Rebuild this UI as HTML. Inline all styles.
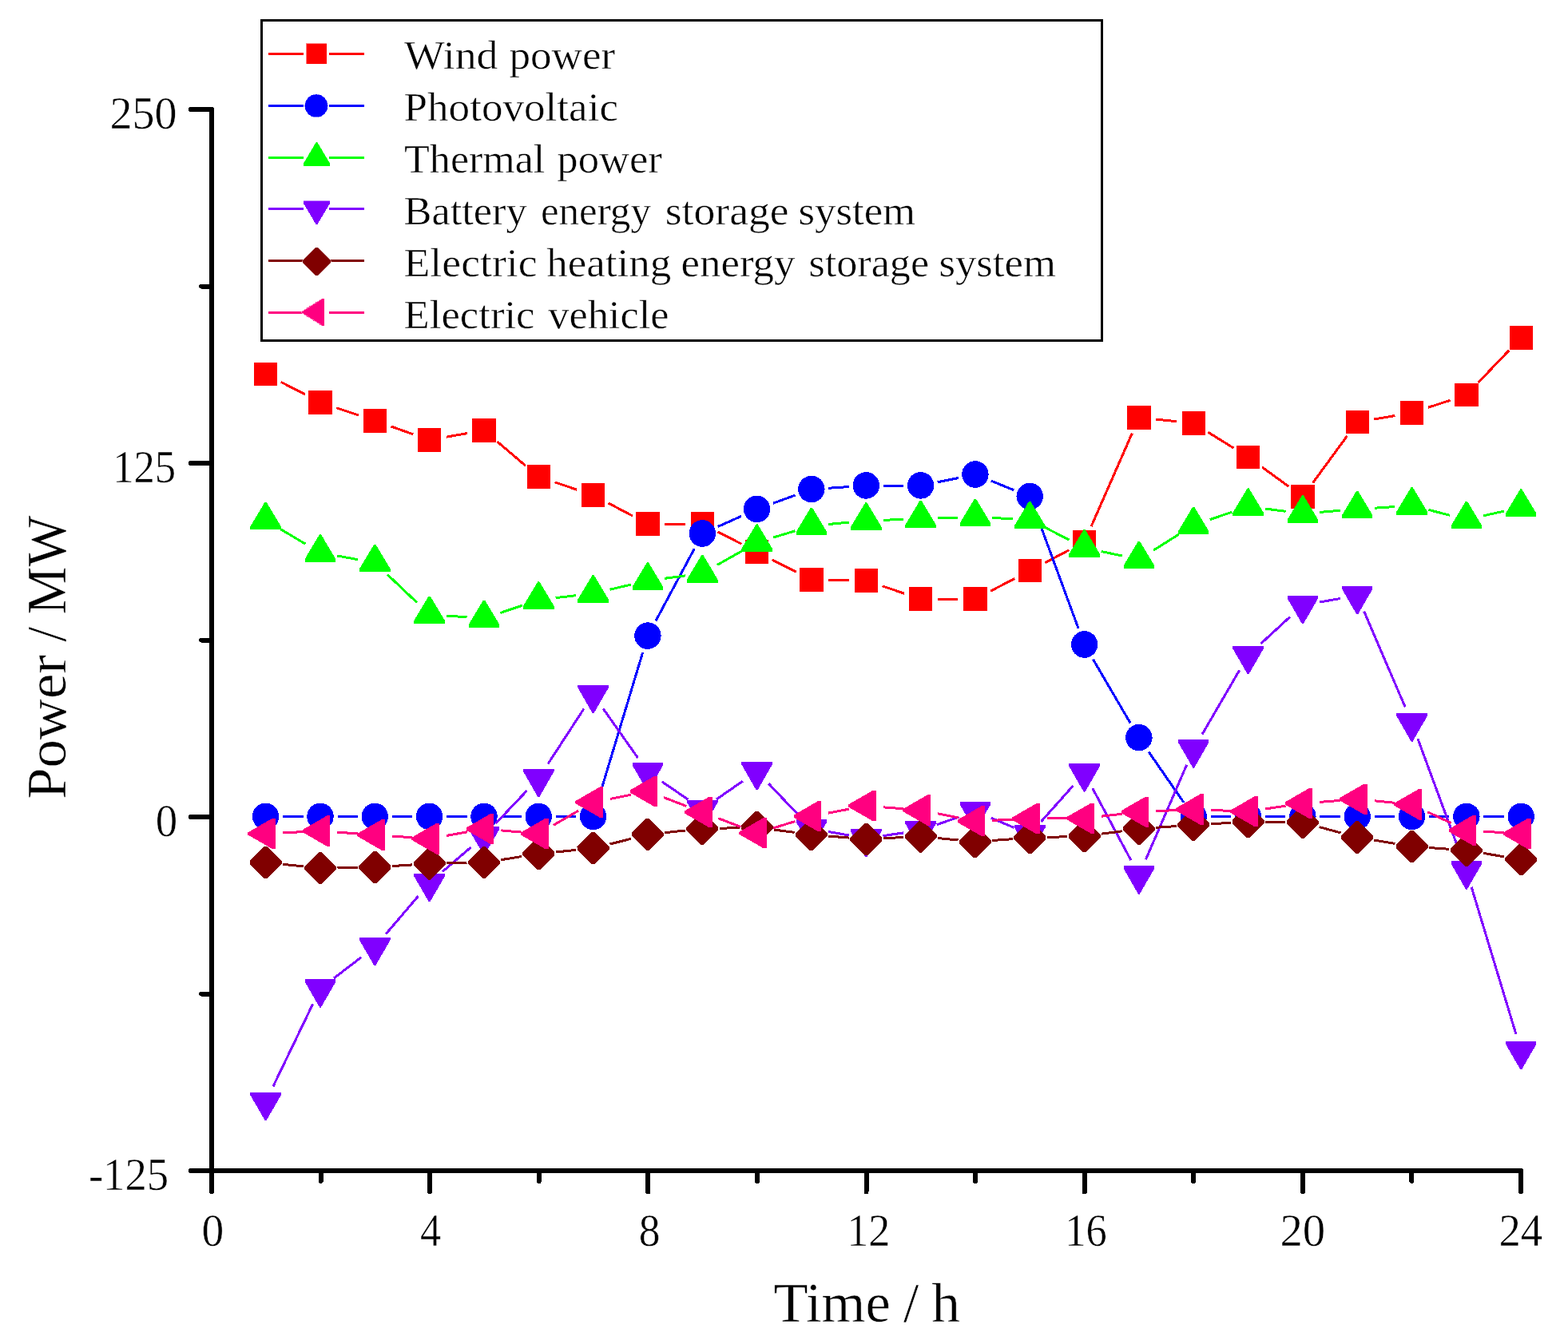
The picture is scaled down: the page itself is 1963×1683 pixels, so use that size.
<!DOCTYPE html>
<html><head><meta charset="utf-8"><title>Power chart</title>
<style>html,body{margin:0;padding:0;background:#fff;width:1963px;height:1683px;overflow:hidden}svg{display:block}</style></head>
<body>
<svg width="1963" height="1683" viewBox="0 0 1963 1683" shape-rendering="crispEdges">
<rect width="1963" height="1683" fill="#fff"/>
<g fill="#ff0000" stroke="none">
<path d="M351.7 478.3L381.9 493.9M421.3 510.7L448.9 520M489.6 534L517.3 543.8M558.8 547.2L584.8 542.6M622.3 552.8L657.9 583.2M694.7 603.9L722.2 613.2M761.6 630L791.9 646M832.4 656L857.8 656M898.4 665.8L928.5 681.3M966.7 700.9L996.8 716.3M1037.4 726.4L1062.8 726.7M1104.6 733.9L1132.2 743.2M1174.1 750.1L1199.4 750.1M1240 740.2L1270.2 724.6M1308.3 704.7L1338.6 688.7M1366.2 659L1417.3 542.6M1447.3 525.1L1472.9 527.7M1512.5 541.3L1544.3 561M1580 585L1613.5 609.3M1643.6 604.6L1686.5 545.9M1720.4 525L1746.4 520.5M1788 510.2L1815.5 501.3M1850.7 479L1889.4 438.5" fill="none" stroke="#ff0000" stroke-width="3"/>
<rect x="317.9" y="453.7" width="29.4" height="29.4"/>
<rect x="386.3" y="489.1" width="29.4" height="29.4"/>
<rect x="454.6" y="512.2" width="29.4" height="29.4"/>
<rect x="522.9" y="536.2" width="29.4" height="29.4"/>
<rect x="591.2" y="524.2" width="29.4" height="29.4"/>
<rect x="659.6" y="582.4" width="29.4" height="29.4"/>
<rect x="727.9" y="605.3" width="29.4" height="29.4"/>
<rect x="796.2" y="641.3" width="29.4" height="29.4"/>
<rect x="864.6" y="641.3" width="29.4" height="29.4"/>
<rect x="932.9" y="676.4" width="29.4" height="29.4"/>
<rect x="1001.2" y="711.4" width="29.4" height="29.4"/>
<rect x="1069.6" y="712.3" width="29.4" height="29.4"/>
<rect x="1137.9" y="735.4" width="29.4" height="29.4"/>
<rect x="1206.2" y="735.4" width="29.4" height="29.4"/>
<rect x="1274.5" y="700" width="29.4" height="29.4"/>
<rect x="1342.9" y="664" width="29.4" height="29.4"/>
<rect x="1411.2" y="508.2" width="29.4" height="29.4"/>
<rect x="1479.5" y="515.2" width="29.4" height="29.4"/>
<rect x="1547.9" y="557.7" width="29.4" height="29.4"/>
<rect x="1616.2" y="607.2" width="29.4" height="29.4"/>
<rect x="1684.5" y="513.9" width="29.4" height="29.4"/>
<rect x="1752.9" y="502.2" width="29.4" height="29.4"/>
<rect x="1821.2" y="479.9" width="29.4" height="29.4"/>
<rect x="1889.5" y="408.2" width="29.4" height="29.4"/>
</g>
<g fill="#0000ff" stroke="none">
<path d="M354.1 1022.6L379.5 1022.6M422.5 1022.6L447.8 1022.6M490.8 1022.6L516.1 1022.6M559.1 1022.6L584.5 1022.6M627.5 1022.6L652.8 1022.6M695.8 1022.6L721.1 1022.6M748.8 1002L804.7 816.9M821.1 777.3L869.2 687.2M898.9 659.4L928 646.4M967.8 630.2L995.7 620.1M1037.4 611.3L1062.8 609.5M1105.8 608.1L1131.1 608.1M1173.7 603.8L1199.9 598.5M1240.9 602.2L1269.3 613.7M1296.7 641.9L1350.1 787M1368.5 825.7L1415 905.3M1438.1 941.5L1482 1004.9M1515.7 1022.6L1541.1 1022.6M1584.1 1022.6L1609.4 1022.6M1652.4 1022.6L1677.7 1022.6M1720.7 1022.6L1746.1 1022.6M1789.1 1022.6L1814.4 1022.6M1857.4 1022.6L1882.7 1022.6" fill="none" stroke="#0000ff" stroke-width="3"/>
<ellipse cx="332.6" cy="1022.4" rx="16.7" ry="16.8"/>
<ellipse cx="401" cy="1022.4" rx="16.7" ry="16.8"/>
<ellipse cx="469.3" cy="1022.4" rx="16.7" ry="16.8"/>
<ellipse cx="537.6" cy="1022.4" rx="16.7" ry="16.8"/>
<ellipse cx="606" cy="1022.4" rx="16.7" ry="16.8"/>
<ellipse cx="674.3" cy="1022.4" rx="16.7" ry="16.8"/>
<ellipse cx="742.6" cy="1022.4" rx="16.7" ry="16.8"/>
<ellipse cx="810.9" cy="796.1" rx="16.7" ry="16.8"/>
<ellipse cx="879.3" cy="668" rx="16.7" ry="16.8"/>
<ellipse cx="947.6" cy="637.4" rx="16.7" ry="16.8"/>
<ellipse cx="1015.9" cy="612.5" rx="16.7" ry="16.8"/>
<ellipse cx="1084.3" cy="607.9" rx="16.7" ry="16.8"/>
<ellipse cx="1152.6" cy="607.9" rx="16.7" ry="16.8"/>
<ellipse cx="1220.9" cy="594" rx="16.7" ry="16.8"/>
<ellipse cx="1289.2" cy="621.5" rx="16.7" ry="16.8"/>
<ellipse cx="1357.6" cy="807" rx="16.7" ry="16.8"/>
<ellipse cx="1425.9" cy="923.6" rx="16.7" ry="16.8"/>
<ellipse cx="1494.2" cy="1022.4" rx="16.7" ry="16.8"/>
<ellipse cx="1562.6" cy="1022.4" rx="16.7" ry="16.8"/>
<ellipse cx="1630.9" cy="1022.4" rx="16.7" ry="16.8"/>
<ellipse cx="1699.2" cy="1022.4" rx="16.7" ry="16.8"/>
<ellipse cx="1767.6" cy="1022.4" rx="16.7" ry="16.8"/>
<ellipse cx="1835.9" cy="1022.4" rx="16.7" ry="16.8"/>
<ellipse cx="1904.2" cy="1022.4" rx="16.7" ry="16.8"/>
</g>
<g fill="#00ff00" stroke="none">
<path d="M351.1 662.6L382.5 681.2M422.1 696L448.1 700.7M484.9 719.3L522 754.6M559.1 771L584.5 772.8M626.3 767.5L653.9 758.2M695.6 748.7L721.3 745.6M763.6 738.2L790 732M832.2 724.3L858 720.9M898 707.4L928.9 689.9M968.2 673L995.4 664.8M1037.3 656.5L1062.9 654.1M1105.7 651.3L1131.1 650.4M1174.1 649L1199.4 648.2M1242.4 648.5L1267.8 649.7M1308.3 660.5L1338.5 676.1M1378.6 690.5L1404.9 696M1444.1 689.1L1476 669M1514.6 650.7L1542.2 641.2M1583.9 637L1609.6 640.4M1652.3 641.4L1677.8 639.3M1720.7 636.2L1746.1 634.5M1788.4 638.4L1815.1 645.3M1856.9 645.9L1883.2 640" fill="none" stroke="#00ff00" stroke-width="3"/>
<polygon points="331.6,628.7 333.6,628.7 351.8,659.1 351.8,663.1 313.4,663.1 313.4,659.1"/>
<polygon points="400,669.3 402,669.3 420.2,699.7 420.2,703.7 381.8,703.7 381.8,699.7"/>
<polygon points="468.3,681.6 470.3,681.6 488.5,712 488.5,716 450.1,716 450.1,712"/>
<polygon points="536.6,746.5 538.6,746.5 556.8,776.9 556.8,780.9 518.4,780.9 518.4,776.9"/>
<polygon points="605,751.5 607,751.5 625.2,781.9 625.2,785.9 586.8,785.9 586.8,781.9"/>
<polygon points="673.3,728.4 675.3,728.4 693.5,758.8 693.5,762.8 655.1,762.8 655.1,758.8"/>
<polygon points="741.6,720.1 743.6,720.1 761.8,750.5 761.8,754.5 723.4,754.5 723.4,750.5"/>
<polygon points="809.9,704.3 811.9,704.3 830.1,734.7 830.1,738.7 791.7,738.7 791.7,734.7"/>
<polygon points="878.3,695.1 880.3,695.1 898.5,725.5 898.5,729.5 860.1,729.5 860.1,725.5"/>
<polygon points="946.6,656.4 948.6,656.4 966.8,686.8 966.8,690.8 928.4,690.8 928.4,686.8"/>
<polygon points="1014.9,635.6 1016.9,635.6 1035.1,666 1035.1,670 996.7,670 996.7,666"/>
<polygon points="1083.3,629.2 1085.3,629.2 1103.5,659.6 1103.5,663.6 1065.1,663.6 1065.1,659.6"/>
<polygon points="1151.6,626.7 1153.6,626.7 1171.8,657.1 1171.8,661.1 1133.4,661.1 1133.4,657.1"/>
<polygon points="1219.9,624.7 1221.9,624.7 1240.1,655.1 1240.1,659.1 1201.7,659.1 1201.7,655.1"/>
<polygon points="1288.2,627.7 1290.2,627.7 1308.5,658.1 1308.5,662.1 1270,662.1 1270,658.1"/>
<polygon points="1356.6,663.1 1358.6,663.1 1376.8,693.5 1376.8,697.5 1338.4,697.5 1338.4,693.5"/>
<polygon points="1424.9,677.6 1426.9,677.6 1445.1,708 1445.1,712 1406.7,712 1406.7,708"/>
<polygon points="1493.2,634.7 1495.2,634.7 1513.4,665.1 1513.4,669.1 1475,669.1 1475,665.1"/>
<polygon points="1561.6,611.4 1563.6,611.4 1581.8,641.8 1581.8,645.8 1543.4,645.8 1543.4,641.8"/>
<polygon points="1629.9,620.2 1631.9,620.2 1650.1,650.6 1650.1,654.6 1611.7,654.6 1611.7,650.6"/>
<polygon points="1698.2,614.7 1700.2,614.7 1718.4,645.1 1718.4,649.1 1680,649.1 1680,645.1"/>
<polygon points="1766.6,610.2 1768.6,610.2 1786.8,640.6 1786.8,644.6 1748.4,644.6 1748.4,640.6"/>
<polygon points="1834.9,627.7 1836.9,627.7 1855.1,658.1 1855.1,662.1 1816.7,662.1 1816.7,658.1"/>
<polygon points="1903.2,612.4 1905.2,612.4 1923.4,642.8 1923.4,646.8 1885,646.8 1885,642.8"/>
</g>
<g fill="#8000ff" stroke="none">
<path d="M342 1360.3L391.6 1257.4M418 1224.9L452.2 1198.8M483.3 1169.4L523.7 1122M553.9 1091.6L589.7 1060.8M620.7 1031.1L659.5 990.2M686 956.6L730.9 887.6M755 887.2L798.6 949.1M828.7 978.8L861.5 1001.2M896.9 1001L929.9 978.1M962.4 981.4L1001.1 1022.2M1037.1 1041.5L1063.1 1046M1105.5 1046.6L1131.3 1042.9M1172.9 1032.7L1200.6 1022.9M1240.7 1024.2L1269.5 1036.4M1303.5 1028.7L1343.3 984.1M1367.7 987L1415.8 1077.1M1434.4 1076.4L1485.7 957.7M1505.1 919.4L1551.7 839.3M1578.4 806.1L1615.1 772.3M1652.1 754L1678 749.5M1707.7 765.6L1759.1 885.3M1775 925.3L1828.4 1069.9M1842.1 1110.7L1898 1295.2" fill="none" stroke="#8000ff" stroke-width="3"/>
<polygon points="313.4,1367.9 351.8,1367.9 351.8,1371.4 333.5,1403.2 331.7,1403.2 313.4,1371.4"/>
<polygon points="381.8,1226.2 420.2,1226.2 420.2,1229.7 401.9,1261.5 400.1,1261.5 381.8,1229.7"/>
<polygon points="450.1,1173.9 488.5,1173.9 488.5,1177.4 470.2,1209.2 468.4,1209.2 450.1,1177.4"/>
<polygon points="518.4,1093.9 556.8,1093.9 556.8,1097.4 538.5,1129.2 536.7,1129.2 518.4,1097.4"/>
<polygon points="586.8,1034.9 625.2,1034.9 625.2,1038.4 606.9,1070.2 605.1,1070.2 586.8,1038.4"/>
<polygon points="655.1,962.8 693.5,962.8 693.5,966.3 675.2,998.1 673.4,998.1 655.1,966.3"/>
<polygon points="723.4,857.8 761.8,857.8 761.8,861.3 743.5,893.1 741.7,893.1 723.4,861.3"/>
<polygon points="791.7,954.9 830.1,954.9 830.1,958.4 811.8,990.2 810,990.2 791.7,958.4"/>
<polygon points="860.1,1001.5 898.5,1001.5 898.5,1005 880.2,1036.8 878.4,1036.8 860.1,1005"/>
<polygon points="928.4,954 966.8,954 966.8,957.5 948.5,989.3 946.7,989.3 928.4,957.5"/>
<polygon points="996.7,1026 1035.1,1026 1035.1,1029.5 1016.8,1061.3 1015,1061.3 996.7,1029.5"/>
<polygon points="1065.1,1037.9 1103.5,1037.9 1103.5,1041.4 1085.2,1073.2 1083.4,1073.2 1065.1,1041.4"/>
<polygon points="1133.4,1028 1171.8,1028 1171.8,1031.5 1153.5,1063.3 1151.7,1063.3 1133.4,1031.5"/>
<polygon points="1201.7,1004 1240.1,1004 1240.1,1007.5 1221.8,1039.3 1220,1039.3 1201.7,1007.5"/>
<polygon points="1270,1033 1308.5,1033 1308.5,1036.5 1290.2,1068.3 1288.3,1068.3 1270,1036.5"/>
<polygon points="1338.4,956.2 1376.8,956.2 1376.8,959.7 1358.5,991.5 1356.7,991.5 1338.4,959.7"/>
<polygon points="1406.7,1084.3 1445.1,1084.3 1445.1,1087.8 1426.8,1119.6 1425,1119.6 1406.7,1087.8"/>
<polygon points="1475,926.2 1513.4,926.2 1513.4,929.7 1495.1,961.5 1493.3,961.5 1475,929.7"/>
<polygon points="1543.4,808.9 1581.8,808.9 1581.8,812.4 1563.5,844.2 1561.7,844.2 1543.4,812.4"/>
<polygon points="1611.7,745.9 1650.1,745.9 1650.1,749.4 1631.8,781.2 1630,781.2 1611.7,749.4"/>
<polygon points="1680,734 1718.4,734 1718.4,737.5 1700.1,769.3 1698.3,769.3 1680,737.5"/>
<polygon points="1748.4,893.3 1786.8,893.3 1786.8,896.8 1768.5,928.6 1766.7,928.6 1748.4,896.8"/>
<polygon points="1816.7,1078.3 1855.1,1078.3 1855.1,1081.8 1836.8,1113.6 1835,1113.6 1816.7,1081.8"/>
<polygon points="1885,1304 1923.4,1304 1923.4,1307.5 1905.1,1339.3 1903.3,1339.3 1885,1307.5"/>
</g>
<g fill="#800000" stroke="none">
<path d="M354 1082.3L379.6 1084.9M422.5 1086.8L447.8 1086.4M490.7 1084.6L516.2 1082.9M559.1 1081L584.5 1080.5M627.2 1076.7L653.1 1072.5M695.7 1067L721.2 1064.4M763.5 1057L790.1 1050.3M832.3 1042.7L857.9 1040M900.8 1037.2L926.1 1036.7M968.9 1039L994.6 1042.4M1037.4 1047L1062.8 1049.1M1105.7 1049.8L1131.1 1048.5M1174 1049.5L1199.5 1052M1242.4 1052.5L1267.8 1050.7M1310.7 1048.5L1336.1 1047.7M1378.9 1044.2L1404.6 1040.8M1447.4 1036.3L1472.8 1034.5M1515.7 1031.7L1541.1 1030.4M1584.1 1029.5L1609.4 1029.7M1651.7 1035.6L1678.5 1042.9M1720.4 1052L1746.4 1056.4M1789 1061.5L1814.4 1063.3M1857.1 1068.4L1883 1072.8" fill="none" stroke="#800000" stroke-width="3"/>
<polygon points="312.5,1078.3 330.8,1060 334.4,1060 352.7,1078.3 352.7,1081.9 334.4,1100.2 330.8,1100.2 312.5,1081.9"/>
<polygon points="380.9,1085.3 399.2,1067 402.8,1067 421.1,1085.3 421.1,1088.9 402.8,1107.2 399.2,1107.2 380.9,1088.9"/>
<polygon points="449.2,1084.3 467.5,1066 471.1,1066 489.4,1084.3 489.4,1087.9 471.1,1106.2 467.5,1106.2 449.2,1087.9"/>
<polygon points="517.5,1079.6 535.8,1061.3 539.4,1061.3 557.7,1079.6 557.7,1083.2 539.4,1101.5 535.8,1101.5 517.5,1083.2"/>
<polygon points="585.9,1078.3 604.2,1060 607.8,1060 626.1,1078.3 626.1,1081.9 607.8,1100.2 604.2,1100.2 585.9,1081.9"/>
<polygon points="654.2,1067.3 672.5,1049 676.1,1049 694.4,1067.3 694.4,1070.9 676.1,1089.2 672.5,1089.2 654.2,1070.9"/>
<polygon points="722.5,1060.5 740.8,1042.2 744.4,1042.2 762.7,1060.5 762.7,1064.1 744.4,1082.4 740.8,1082.4 722.5,1064.1"/>
<polygon points="790.8,1043.2 809.1,1024.9 812.7,1024.9 831,1043.2 831,1046.8 812.7,1065.1 809.1,1065.1 790.8,1046.8"/>
<polygon points="859.2,1035.9 877.5,1017.6 881.1,1017.6 899.4,1035.9 899.4,1039.5 881.1,1057.8 877.5,1057.8 859.2,1039.5"/>
<polygon points="927.5,1034.4 945.8,1016.1 949.4,1016.1 967.7,1034.4 967.7,1038 949.4,1056.3 945.8,1056.3 927.5,1038"/>
<polygon points="995.8,1043.4 1014.1,1025.1 1017.7,1025.1 1036,1043.4 1036,1047 1017.7,1065.3 1014.1,1065.3 995.8,1047"/>
<polygon points="1064.2,1049.1 1082.5,1030.8 1086.1,1030.8 1104.4,1049.1 1104.4,1052.7 1086.1,1071 1082.5,1071 1064.2,1052.7"/>
<polygon points="1132.5,1045.6 1150.8,1027.3 1154.4,1027.3 1172.7,1045.6 1172.7,1049.2 1154.4,1067.5 1150.8,1067.5 1132.5,1049.2"/>
<polygon points="1200.8,1052.3 1219.1,1034 1222.7,1034 1241,1052.3 1241,1055.9 1222.7,1074.2 1219.1,1074.2 1200.8,1055.9"/>
<polygon points="1269.2,1047.3 1287.5,1029 1291,1029 1309.3,1047.3 1309.3,1050.9 1291,1069.2 1287.5,1069.2 1269.2,1050.9"/>
<polygon points="1337.5,1045.3 1355.8,1027 1359.4,1027 1377.7,1045.3 1377.7,1048.9 1359.4,1067.2 1355.8,1067.2 1337.5,1048.9"/>
<polygon points="1405.8,1036.1 1424.1,1017.8 1427.7,1017.8 1446,1036.1 1446,1039.7 1427.7,1058 1424.1,1058 1405.8,1039.7"/>
<polygon points="1474.1,1031.1 1492.4,1012.8 1496,1012.8 1514.3,1031.1 1514.3,1034.7 1496,1053 1492.4,1053 1474.1,1034.7"/>
<polygon points="1542.5,1027.4 1560.8,1009.1 1564.4,1009.1 1582.7,1027.4 1582.7,1031 1564.4,1049.3 1560.8,1049.3 1542.5,1031"/>
<polygon points="1610.8,1028.2 1629.1,1009.9 1632.7,1009.9 1651,1028.2 1651,1031.8 1632.7,1050.1 1629.1,1050.1 1610.8,1031.8"/>
<polygon points="1679.1,1046.7 1697.4,1028.4 1701,1028.4 1719.3,1046.7 1719.3,1050.3 1701,1068.6 1697.4,1068.6 1679.1,1050.3"/>
<polygon points="1747.5,1058.1 1765.8,1039.8 1769.4,1039.8 1787.7,1058.1 1787.7,1061.7 1769.4,1080 1765.8,1080 1747.5,1061.7"/>
<polygon points="1815.8,1063.1 1834.1,1044.8 1837.7,1044.8 1856,1063.1 1856,1066.7 1837.7,1085 1834.1,1085 1815.8,1066.7"/>
<polygon points="1884.1,1074.5 1902.4,1056.2 1906,1056.2 1924.3,1074.5 1924.3,1078.1 1906,1096.4 1902.4,1096.4 1884.1,1078.1"/>
</g>
<g fill="#ff0080" stroke="none">
<path d="M354.1 1042.9L379.5 1041.6M422.4 1042.1L447.8 1044M490.7 1047L516.2 1048.8M558.8 1046.5L584.8 1041.8M627.4 1039.9L652.9 1042.1M692.9 1033.3L724 1015.3M763.7 1000.4L789.9 995.2M831 998.6L859.2 1009.4M899.3 1024.7L927.5 1035.5M968.2 1036.9L995.4 1028.5M1037 1018.1L1063.2 1013.1M1105.7 1010.8L1131.2 1012.8M1173.7 1018.8L1199.8 1024M1242.4 1027.3L1267.8 1026.1M1310.7 1025L1336.1 1024.9M1378.9 1022.2L1404.6 1019.2M1447.4 1015.7L1472.8 1014.6M1515.7 1014.4L1541.1 1015.4M1583.8 1013L1609.6 1009.2M1652.3 1004.4L1677.8 1002.4M1720.6 1002.8L1746.2 1005.3M1787 1016.6L1816.5 1030.6M1857.4 1041.2L1882.8 1042.7" fill="none" stroke="#ff0080" stroke-width="3"/>
<polygon points="310.3,1042.4 341,1024.7 344.9,1024.7 344.9,1063.1 341,1063.1 310.3,1045.4"/>
<polygon points="378.7,1039.1 409.4,1021.4 413.3,1021.4 413.3,1059.8 409.4,1059.8 378.7,1042.1"/>
<polygon points="447,1044 477.7,1026.3 481.6,1026.3 481.6,1064.7 477.7,1064.7 447,1047"/>
<polygon points="515.3,1048.8 546,1031.1 549.9,1031.1 549.9,1069.5 546,1069.5 515.3,1051.8"/>
<polygon points="583.7,1036.5 614.4,1018.8 618.2,1018.8 618.2,1057.2 614.4,1057.2 583.7,1039.5"/>
<polygon points="652,1042.5 682.7,1024.8 686.6,1024.8 686.6,1063.2 682.7,1063.2 652,1045.5"/>
<polygon points="720.3,1003.1 751,985.4 754.9,985.4 754.9,1023.8 751,1023.8 720.3,1006.1"/>
<polygon points="788.6,989.5 819.3,971.8 823.2,971.8 823.2,1010.2 819.3,1010.2 788.6,992.5"/>
<polygon points="857,1015.5 887.7,997.8 891.6,997.8 891.6,1036.2 887.7,1036.2 857,1018.5"/>
<polygon points="925.3,1041.7 956,1024 959.9,1024 959.9,1062.4 956,1062.4 925.3,1044.7"/>
<polygon points="993.6,1020.7 1024.3,1003 1028.2,1003 1028.2,1041.4 1024.3,1041.4 993.6,1023.7"/>
<polygon points="1062,1007.5 1092.7,989.8 1096.6,989.8 1096.6,1028.2 1092.7,1028.2 1062,1010.5"/>
<polygon points="1130.3,1013.1 1161,995.4 1164.9,995.4 1164.9,1033.8 1161,1033.8 1130.3,1016.1"/>
<polygon points="1198.6,1026.7 1229.3,1009 1233.2,1009 1233.2,1047.4 1229.3,1047.4 1198.6,1029.7"/>
<polygon points="1267,1023.7 1297.6,1006 1301.5,1006 1301.5,1044.4 1297.6,1044.4 1267,1026.7"/>
<polygon points="1335.3,1023.2 1366,1005.5 1369.9,1005.5 1369.9,1043.9 1366,1043.9 1335.3,1026.2"/>
<polygon points="1403.6,1015.2 1434.3,997.5 1438.2,997.5 1438.2,1035.9 1434.3,1035.9 1403.6,1018.2"/>
<polygon points="1471.9,1012.1 1502.6,994.4 1506.5,994.4 1506.5,1032.8 1502.6,1032.8 1471.9,1015.1"/>
<polygon points="1540.3,1014.7 1571,997 1574.9,997 1574.9,1035.4 1571,1035.4 1540.3,1017.7"/>
<polygon points="1608.6,1004.5 1639.3,986.8 1643.2,986.8 1643.2,1025.2 1639.3,1025.2 1608.6,1007.5"/>
<polygon points="1676.9,999.3 1707.6,981.6 1711.5,981.6 1711.5,1020 1707.6,1020 1676.9,1002.3"/>
<polygon points="1745.3,1005.8 1776,988.1 1779.9,988.1 1779.9,1026.5 1776,1026.5 1745.3,1008.8"/>
<polygon points="1813.6,1038.4 1844.3,1020.7 1848.2,1020.7 1848.2,1059.1 1844.3,1059.1 1813.6,1041.4"/>
<polygon points="1881.9,1042.5 1912.6,1024.8 1916.5,1024.8 1916.5,1063.2 1912.6,1063.2 1881.9,1045.5"/>
</g>
<g stroke="#000" stroke-width="6" stroke-linecap="round" fill="none">
<path d="M265 137V1466M265 1466H1904M265 137H239M265 358.5H252M265 580H239M265 801.5H252M265 1023H239M265 1244.5H252M265 1466H239M265 1466V1492.3M401.6 1466V1479M538.2 1466V1492.3M674.8 1466V1479M811.3 1466V1492.3M947.9 1466V1479M1084.5 1466V1492.3M1221.1 1466V1479M1357.7 1466V1492.3M1494.2 1466V1479M1630.8 1466V1492.3M1767.4 1466V1479M1904 1466V1492.3"/>
</g>
<g font-family="'Liberation Serif', serif" stroke="#fff" stroke-width="0.5" font-size="57" fill="#000">
<text y="1559.8"><tspan x="252.61" textLength="27.79" lengthAdjust="spacingAndGlyphs">0</tspan></text>
<text y="1559.8"><tspan x="525.98" textLength="26.13" lengthAdjust="spacingAndGlyphs">4</tspan></text>
<text y="1559.8"><tspan x="799.69" textLength="26.72" lengthAdjust="spacingAndGlyphs">8</tspan></text>
<text y="1559.8"><tspan x="1060.15" textLength="54.14" lengthAdjust="spacingAndGlyphs">12</tspan></text>
<text y="1559.8"><tspan x="1333.29" textLength="52.52" lengthAdjust="spacingAndGlyphs">16</tspan></text>
<text y="1559.8"><tspan x="1602.41" textLength="56.84" lengthAdjust="spacingAndGlyphs">20</tspan></text>
<text y="1559.8"><tspan x="1876.40" textLength="54.76" lengthAdjust="spacingAndGlyphs">24</tspan></text>
<text y="160.7"><tspan x="137.44" textLength="83.96" lengthAdjust="spacingAndGlyphs">250</tspan></text>
<text y="603.7"><tspan x="141.18" textLength="79.00" lengthAdjust="spacingAndGlyphs">125</tspan></text>
<text y="1046.6"><tspan x="194.83" textLength="27.43" lengthAdjust="spacingAndGlyphs">0</tspan></text>
<text y="1489.8"><tspan x="110.88" textLength="100.37" lengthAdjust="spacingAndGlyphs">-125</tspan></text>
</g>
<g font-family="'Liberation Serif', serif" stroke="#fff" stroke-width="0.5" font-size="69.5" fill="#000">
<text y="1654.7"><tspan x="968.43" textLength="146.38" lengthAdjust="spacingAndGlyphs">Time</tspan> <tspan x="1130.90" textLength="19.26" lengthAdjust="spacingAndGlyphs">/</tspan> <tspan x="1166.23" textLength="35.80" lengthAdjust="spacingAndGlyphs">h</tspan></text>
<text transform="translate(81.8 0) rotate(-90)"><tspan x="-1000.83" textLength="180.63" lengthAdjust="spacingAndGlyphs">Power</tspan> <tspan x="-803.80" textLength="19.06" lengthAdjust="spacingAndGlyphs">/</tspan> <tspan x="-769.85" textLength="124.19" lengthAdjust="spacingAndGlyphs">MW</tspan></text>
</g>
<rect x="327.5" y="25.5" width="1052" height="401" fill="#fff" stroke="#000" stroke-width="3"/>
<g font-family="'Liberation Serif', serif" stroke="#fff" stroke-width="0.5" font-size="51" fill="#000">
<path d="M336 67.5H380M412 67.5H456" stroke="#ff0000" stroke-width="3" fill="none"/>
<g fill="#ff0000"><rect x="383" y="54" width="26" height="26"/></g>
<text y="85.8"><tspan x="506.10" textLength="117.44" lengthAdjust="spacingAndGlyphs">Wind</tspan> <tspan x="637.42" textLength="132.75" lengthAdjust="spacingAndGlyphs">power</tspan></text>
<path d="M336 132.3H380M412 132.3H456" stroke="#0000ff" stroke-width="3" fill="none"/>
<g fill="#0000ff"><circle cx="396" cy="132.5" r="14.6"/></g>
<text y="150.8"><tspan x="505.54" textLength="268.49" lengthAdjust="spacingAndGlyphs">Photovoltaic</tspan></text>
<path d="M336 197.1H380M412 197.1H456" stroke="#00ff00" stroke-width="3" fill="none"/>
<g fill="#00ff00"><polygon points="395.6,177.8 397.4,177.8 413.2,204.5 413.2,208 379.8,208 379.8,204.5"/></g>
<text y="215.8"><tspan x="506.08" textLength="176.24" lengthAdjust="spacingAndGlyphs">Thermal</tspan> <tspan x="697.33" textLength="131.44" lengthAdjust="spacingAndGlyphs">power</tspan></text>
<path d="M336 261.9H380M412 261.9H456" stroke="#8000ff" stroke-width="3" fill="none"/>
<g fill="#8000ff"><polygon points="379.8,251.4 413.2,251.4 413.2,254.5 397.3,281.2 395.7,281.2 379.8,254.5"/></g>
<text y="280.8"><tspan x="505.56" textLength="154.16" lengthAdjust="spacingAndGlyphs">Battery</tspan> <tspan x="676.90" textLength="138.04" lengthAdjust="spacingAndGlyphs">energy</tspan> <tspan x="832.70" textLength="154.87" lengthAdjust="spacingAndGlyphs">storage</tspan> <tspan x="999.53" textLength="146.62" lengthAdjust="spacingAndGlyphs">system</tspan></text>
<path d="M336 326.7H380M412 326.7H456" stroke="#800000" stroke-width="3" fill="none"/>
<g fill="#800000"><polygon points="378.8,325.8 394.9,309.8 398.1,309.8 414.2,325.8 414.2,329 398.1,345 394.9,345 378.8,329"/></g>
<text y="345.8"><tspan x="505.52" textLength="167.12" lengthAdjust="spacingAndGlyphs">Electric</tspan> <tspan x="684.28" textLength="156.02" lengthAdjust="spacingAndGlyphs">heating</tspan> <tspan x="852.52" textLength="143.02" lengthAdjust="spacingAndGlyphs">energy</tspan> <tspan x="1012.45" textLength="150.66" lengthAdjust="spacingAndGlyphs">storage</tspan> <tspan x="1175.43" textLength="146.52" lengthAdjust="spacingAndGlyphs">system</tspan></text>
<path d="M336 391.5H380M412 391.5H456" stroke="#ff0080" stroke-width="3" fill="none"/>
<g fill="#ff0080"><polygon points="377.5,389.8 402.8,373.8 406.1,373.8 406.1,408 402.8,408 377.5,392.2"/></g>
<text y="410.8"><tspan x="505.55" textLength="163.96" lengthAdjust="spacingAndGlyphs">Electric</tspan> <tspan x="686.20" textLength="151.30" lengthAdjust="spacingAndGlyphs">vehicle</tspan></text>
</g>
</svg>
</body></html>
